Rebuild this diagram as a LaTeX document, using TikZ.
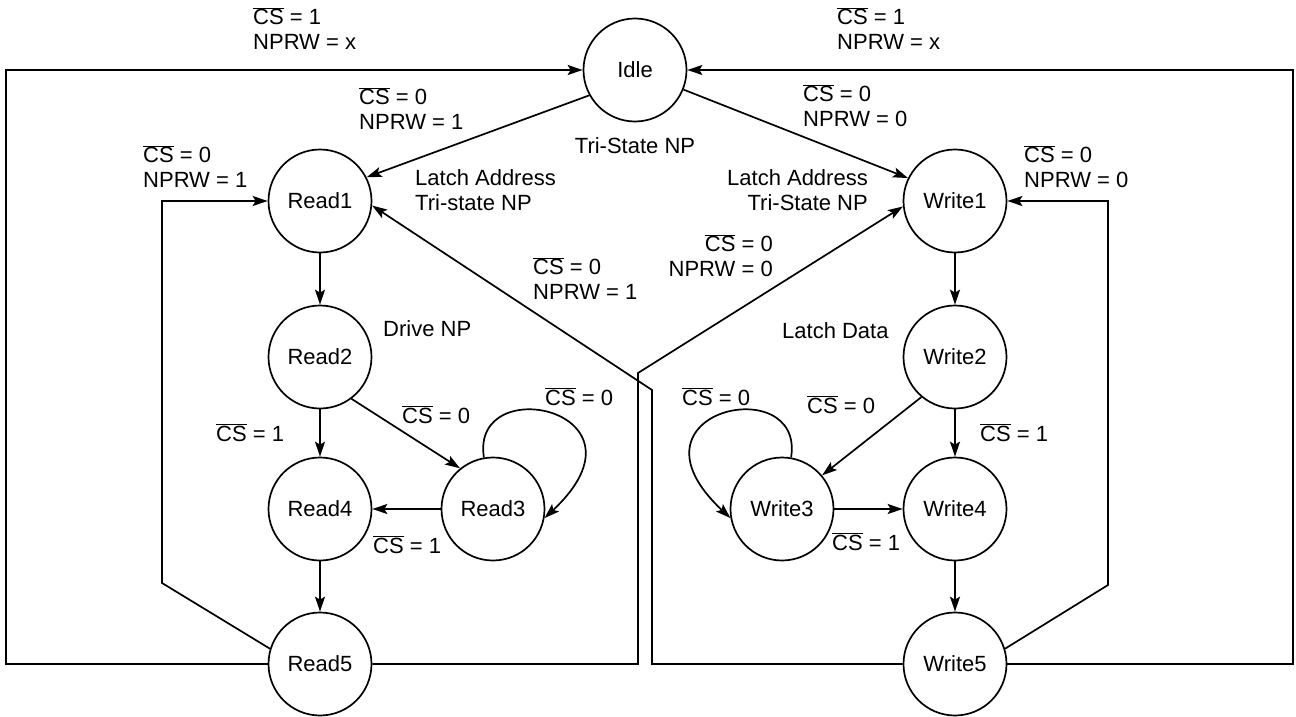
\documentclass[tikz,border=0pt]{standalone}
\usepackage{fontspec}
\setmainfont{Liberation Sans}
\usetikzlibrary{arrows.meta}
\newcommand{\csbar}{$\overline{\mbox{CS}}$}
\begin{document}
\begin{tikzpicture}[x=1pt,y=-1pt,
  state/.style={draw,circle,line width=1.7pt,minimum size=103pt,inner sep=0pt,font=\fontsize{22}{25}\selectfont},
  arr/.style={line width=1.7pt,-{Stealth[length=15pt,width=10pt,inset=3pt]}},
  wire/.style={line width=1.7pt},
  lbl/.style={inner sep=0pt,font=\fontsize{22}{25}\selectfont},
  ]
\useasboundingbox (0,0) rectangle (1296,717);
% states
\node[state] (idle)   at (635,70)  {Idle};
\node[state] (read1)  at (320,201) {Read1};
\node[state] (read2)  at (320,357) {Read2};
\node[state] (read4)  at (320,509) {Read4};
\node[state] (read3)  at (493,509) {Read3};
\node[state] (read5)  at (320,664) {Read5};
\node[state] (write1) at (955,201) {Write1};
\node[state] (write2) at (955,357) {Write2};
\node[state] (write4) at (955,509) {Write4};
\node[state] (write3) at (782,509) {Write3};
\node[state] (write5) at (955,664) {Write5};
% corner coordinates
\coordinate (lo1) at (6,664);
\coordinate (lo2) at (6,70);
\coordinate (ro1) at (1293,664);
\coordinate (ro2) at (1293,70);
\coordinate (li1) at (162,583);
\coordinate (li2) at (162,201);
\coordinate (ri1) at (1108,585);
\coordinate (ri2) at (1108,201);
\coordinate (rw1) at (638,664);
\coordinate (rw2) at (638,373);
\coordinate (wr1) at (652,664);
\coordinate (wr2) at (652,390);
% outer loops
\draw[arr] (read5.west) -- (lo1) -- (lo2) -- (idle.west);
\draw[arr] (write5.east) -- (ro1) -- (ro2) -- (idle.east);
% inner loops
\draw[arr] (read5.163) -- (li1) -- (li2) -- (read1.west);
\draw[arr] (write5.17) -- (ri1) -- (ri2) -- (write1.east);
% crossing
\draw[arr] (read5.east) -- (rw1) -- (rw2) -- (write1.186);
\draw[arr] (write5.west) -- (wr1) -- (wr2) -- (read1.-5);
% idle exits
\draw[arr] (idle.209) -- (read1.27);
\draw[arr] (idle.-22) -- (write1.154);
% read chain
\draw[arr] (read1) -- (read2);
\draw[arr] (read2) -- (read4);
\draw[arr] (read4) -- (read5);
\draw[arr] (read2.-53) -- (read3.129);
\draw[arr] (read3.west) -- (read4.east);
\draw[arr] (read3.100) .. controls (470,370) and (660,410) .. (read3.-10);
% write chain
\draw[arr] (write1) -- (write2);
\draw[arr] (write2) -- (write4);
\draw[arr] (write4) -- (write5);
\draw[arr] (write2.230) -- (write3.40);
\draw[arr] (write3.east) -- (write4.west);
\draw[arr] (write3.80) .. controls (805,370) and (615,410) .. (write3.190);
% labels
\node[lbl,anchor=north west,align=left] (l1) at (253,7) {\csbar{} = 1\\NPRW = x};
\node[lbl,anchor=north west,align=left] (l2) at (837,7) {\csbar{} = 1\\NPRW = x};
\node[lbl,anchor=north west,align=left] (l3) at (359,87) {\csbar{} = 0\\NPRW = 1};
\node[lbl,anchor=north west,align=left] (l4) at (803,84) {\csbar{} = 0\\NPRW = 0};
\node[lbl,anchor=base] (l5) at (635,153) {Tri-State NP};
\node[lbl,anchor=north west,align=left] (l6) at (143,145) {\csbar{} = 0\\NPRW = 1};
\node[lbl,anchor=north west,align=left] (l7) at (415,169) {Latch Address\\Tri-state NP};
\node[lbl,anchor=north east,align=right] (l8) at (868,169) {Latch Address\\Tri-State NP};
\node[lbl,anchor=north west,align=left] (l9) at (1024,145) {\csbar{} = 0\\NPRW = 0};
\node[lbl,anchor=north east,align=right] (l10) at (773,234) {\csbar{} = 0\\NPRW = 0};
\node[lbl,anchor=north west,align=left] (l11) at (533,257) {\csbar{} = 0\\NPRW = 1};
\node[lbl,anchor=base west] (l12) at (383,336) {Drive NP};
\node[lbl,anchor=base west] (l13) at (782,338) {Latch Data};
\node[lbl,anchor=base west] (l14) at (216,441) {\csbar{} = 1};
\node[lbl,anchor=base west] (l15) at (402,423) {\csbar{} = 0};
\node[lbl,anchor=base west] (l16) at (545,405) {\csbar{} = 0};
\node[lbl,anchor=base west] (l17) at (373,553) {\csbar{} = 1};
\node[lbl,anchor=base west] (l18) at (682,405) {\csbar{} = 0};
\node[lbl,anchor=base west] (l19) at (807,413) {\csbar{} = 0};
\node[lbl,anchor=base west] (l20) at (980,441) {\csbar{} = 1};
\node[lbl,anchor=base west] (l21) at (832,550) {\csbar{} = 1};
\end{tikzpicture}
\end{document}
